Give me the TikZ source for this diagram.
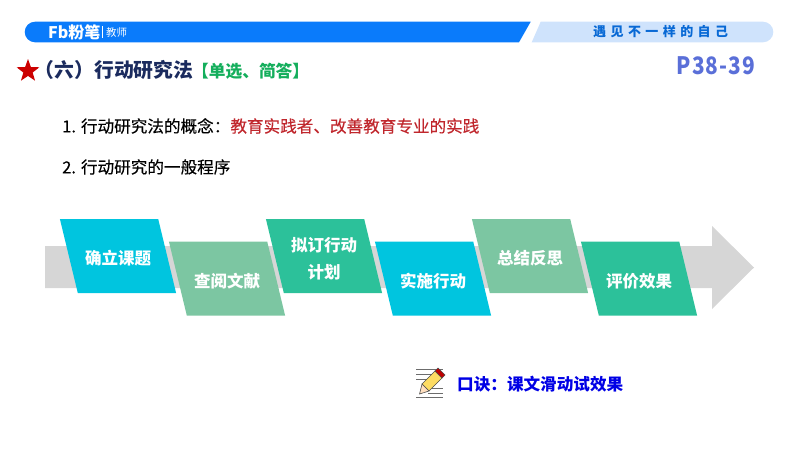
\documentclass[tikz,border=0pt]{standalone}
\usepackage{fontspec}
\setmainfont{Noto Sans CJK SC}
\newfontfamily\spaced[LetterSpace=34]{Noto Sans CJK SC}
\newfontfamily\pagefont[LetterSpace=4,FakeStretch=0.87]{Noto Sans CJK SC}
\newfontfamily\medium[FakeBold=0.25]{Noto Sans CJK SC}
\usetikzlibrary{shapes.geometric}
\definecolor{barblue}{HTML}{0A7BFB}
\definecolor{barlight}{HTML}{CFE3FC}
\definecolor{stepcyan}{HTML}{00C5DF}
\definecolor{stepsage}{HTML}{7CC6A2}
\definecolor{stepgreen}{HTML}{2CC19A}
\definecolor{titlenavy}{HTML}{1B2B5E}
\definecolor{tagreen}{HTML}{14AE5C}
\definecolor{pageblue}{HTML}{5A6FD8}
\definecolor{conceptred}{HTML}{C0272D}

\begin{document}
\begin{tikzpicture}[
    x=1pt,y=-1pt,
    stepbox/.style={trapezium,trapezium left angle=103.6,trapezium right angle=76.4,
        inner xsep=40.2pt,inner ysep=37pt,outer sep=0pt},
    steptext/.style={text=white,font=\fontsize{16.5}{27}\selectfont\bfseries,align=center,inner sep=0pt},
    body/.style={font=\fontsize{16.6}{20}\medium,text=black,inner sep=0pt},
    pencilline/.style={draw=gray!85!black,line width=0.9pt},
]
    \useasboundingbox (0,0) rectangle (800,450);

    %%%
    % Header bars
    \fill[barblue] (530.7,21.7) -- (519,42.3) -- (35,42.3) arc (90:270:10.3) -- cycle;
    \fill[barlight] (540.7,21.7) -- (531.7,42.3) -- (763,42.3) arc (90:-90:10.3) -- cycle;
    \node[text=white,font=\fontsize{16}{16}\selectfont\bfseries,inner sep=0pt,anchor=west] (brand) at (48,32) {Fb粉笔};
    \draw[white,thin] (102.5,26) -- (102.5,38);
    \node[text=white,font=\fontsize{10.5}{11}\selectfont,inner sep=0pt,anchor=west] (role) at (106,32.5) {教师};
    \node[text=barblue!85!black,font=\fontsize{13}{13}\spaced\bfseries,inner sep=0pt,anchor=west] (motto) at (593,32) {遇见不一样的自己};

    %%%
    % Title
    \node[star,star points=5,star point ratio=2.45,fill=red!80!black,minimum size=24pt,inner sep=0pt] (mark) at (28,71) {};
    \node[text=titlenavy,font=\fontsize{19.8}{20}\selectfont\bfseries,inner sep=0pt,anchor=east] (title) at (193.5,70) {（六）行动研究法};
    \node[text=tagreen,font=\fontsize{16.7}{17}\selectfont\bfseries,inner sep=0pt,anchor=west] (tag) at (192,71) {【单选、简答】};
    \node[text=pageblue,font=\fontsize{24}{24}\pagefont\bfseries,inner sep=0pt,anchor=east] (page) at (755,66) {P38-39};

    %%%
    % Text lines
    \node[body,anchor=west] (concept) at (62,126) {1. 行动研究法的概念：\textcolor{conceptred}{教育实践者、改善教育专业的实践}};
    \node[body,anchor=west] (program) at (62,167) {2. 行动研究的一般程序};

    %%%
    % Arrow behind the steps
    \fill[gray!32] (45,246) -- (712,246) -- (712,226) -- (754,267.5) -- (712,309) -- (712,288) -- (45,288) -- cycle;

    %%%
    % Steps
    \node[stepbox,fill=stepcyan] (topic) at (118,256) {};
    \node[stepbox,fill=stepsage] (review) at (227,278.5) {};
    \node[stepbox,fill=stepgreen] (plan) at (324,256) {};
    \node[stepbox,fill=stepcyan] (act) at (433,278.5) {};
    \node[stepbox,fill=stepsage] (reflect) at (530,256) {};
    \node[stepbox,fill=stepgreen] (assess) at (639,278.5) {};
    \node[steptext] (topictext) at (118,258) {确立课题};
    \node[steptext] (reviewtext) at (227,281.5) {查阅文献};
    \node[steptext] (plantext) at (324,258.5) {拟订行动\\计划};
    \node[steptext] (acttext) at (433,281.5) {实施行动};
    \node[steptext] (reflecttext) at (530,258) {总结反思};
    \node[steptext] (assesstext) at (639,281.5) {评价效果};

    %%%
    % Pencil icon and rhyme
    \draw[pencilline] (416,369) -- (443,369) (416,374) -- (433,374) (416,379) -- (428,379);
    \draw[pencilline] (432,388) -- (443,388) (428,393) -- (443,393) (416,397) -- (443,397);
    \draw[black!70,fill=yellow!60!orange!60,line width=0.6pt] (422,384) -- (435,371) -- (442,378) -- (429,391) -- cycle;
    \draw[black!70,fill=orange!25,line width=0.6pt] (419.5,394) -- (422,384) -- (429,391) -- cycle;
    \draw[black!70,fill=red!75!black,line width=0.6pt] (435,371) -- (438,368) -- (445,375) -- (442,378) -- cycle;
    \node[text=blue!90!black,font=\fontsize{16.6}{17}\selectfont\bfseries,inner sep=0pt,anchor=west] (rhyme) at (457,384) {口诀：课文滑动试效果};
\end{tikzpicture}
\end{document}
